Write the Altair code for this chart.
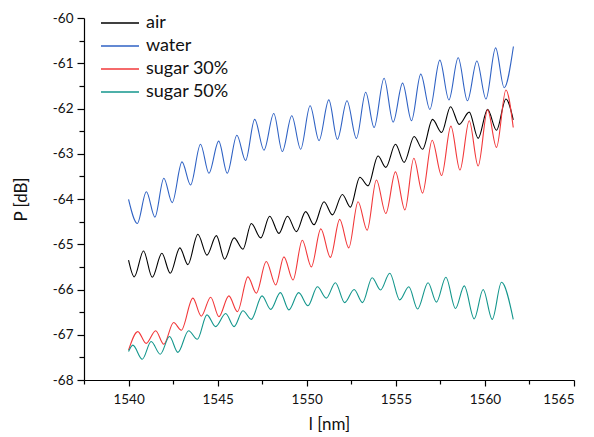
import altair as alt
import pandas as pd

series_names = ["air", "water", "sugar 30%", "sugar 50%"]
series_colors = ["#000000", "#2f62c4", "#f2383a", "#13968c"]

air_x = [1540.0, 1540.32, 1540.84, 1541.33, 1541.87, 1542.34, 1542.88, 1543.33, 1543.89, 1544.40,
         1544.93, 1545.39, 1545.92, 1546.42, 1546.89, 1547.42, 1547.92, 1548.44, 1548.92, 1549.42,
         1549.94, 1550.41, 1550.97, 1551.44, 1552.0, 1552.45, 1552.98, 1553.44, 1554.0, 1554.44,
         1554.98, 1555.47, 1556.03, 1556.50, 1557.06, 1557.57, 1558.07, 1558.56, 1559.12, 1559.62,
         1560.15, 1560.65, 1561.18, 1561.59]
air_y = [-65.35, -65.72, -65.15, -65.73, -65.20, -65.64, -65.08, -65.45, -64.78, -65.24,
         -64.81, -65.33, -64.86, -65.11, -64.54, -64.86, -64.38, -64.76, -64.38, -64.72,
         -64.28, -64.57, -64.06, -64.35, -63.90, -64.18, -63.52, -63.71, -63.05, -63.30,
         -62.79, -63.19, -62.62, -62.90, -62.24, -62.53, -61.96, -62.35, -62.08, -62.66,
         -62.02, -62.48, -61.79, -62.25]

water_x = [1540.0, 1540.49, 1541.0, 1541.48, 1541.98, 1542.45, 1543.0, 1543.48, 1544.04, 1544.51,
           1545.06, 1545.54, 1546.08, 1546.57, 1547.08, 1547.6, 1548.15, 1548.63, 1549.16, 1549.66,
           1550.19, 1550.69, 1551.24, 1551.72, 1552.26, 1552.79, 1553.31, 1553.78, 1554.34, 1554.85,
           1555.38, 1555.88, 1556.40, 1556.91, 1557.47, 1557.98, 1558.50, 1559.02, 1559.55, 1560.06,
           1560.60, 1561.08, 1561.6]
water_y = [-64.01, -64.54, -63.84, -64.40, -63.54, -64.08, -63.18, -63.69, -62.79, -63.43,
           -62.72, -63.43, -62.59, -63.15, -62.24, -62.92, -62.11, -62.95, -62.16, -62.90,
           -61.94, -62.71, -61.81, -62.68, -61.83, -62.66, -61.64, -62.42, -61.33, -62.30,
           -61.44, -62.27, -61.24, -62.02, -60.93, -61.81, -60.88, -61.83, -60.95, -61.79,
           -60.66, -61.54, -60.63]

s30_x = [1540.0, 1540.52, 1540.99, 1541.52, 1541.98, 1542.53, 1542.96, 1543.61, 1544.08, 1544.61,
         1545.07, 1545.63, 1546.11, 1546.70, 1547.17, 1547.73, 1548.26, 1548.72, 1549.23, 1549.75,
         1550.26, 1550.79, 1551.33, 1551.85, 1552.36, 1552.88, 1553.39, 1553.91, 1554.44, 1554.98,
         1555.51, 1556.01, 1556.50, 1557.04, 1557.57, 1558.09, 1558.60, 1559.12, 1559.62, 1560.15,
         1560.65, 1561.18, 1561.59]
s30_y = [-67.34, -66.93, -67.19, -66.91, -67.21, -66.73, -66.90, -66.19, -66.59, -66.17,
         -66.60, -66.14, -66.49, -65.72, -66.08, -65.38, -65.90, -65.28, -65.79, -64.91,
         -65.50, -64.66, -65.29, -64.45, -65.08, -64.06, -64.69, -63.58, -64.32, -63.40,
         -64.24, -63.10, -63.87, -62.70, -63.48, -62.39, -63.36, -62.27, -63.27, -62.03,
         -62.86, -61.59, -62.42]

s50_x = [1540.0, 1540.24, 1540.77, 1541.27, 1541.78, 1542.30, 1542.77, 1543.37, 1543.86, 1544.40,
         1544.89, 1545.45, 1545.92, 1546.42, 1546.89, 1547.49, 1547.98, 1548.52, 1549.0, 1549.55,
         1550.07, 1550.60, 1551.10, 1551.61, 1552.13, 1552.66, 1553.13, 1553.67, 1554.14, 1554.66,
         1555.22, 1555.73, 1556.22, 1556.81, 1557.28, 1557.81, 1558.35, 1558.84, 1559.40, 1559.90,
         1560.41, 1560.93, 1561.59]
s50_y = [-67.37, -67.23, -67.54, -67.15, -67.43, -67.04, -67.39, -66.91, -67.10, -66.56,
         -66.82, -66.53, -66.82, -66.47, -66.66, -66.14, -66.44, -66.07, -66.45, -66.07,
         -66.36, -65.94, -66.19, -65.85, -66.29, -66.00, -66.29, -65.74, -66.01, -65.64,
         -66.23, -65.94, -66.43, -65.85, -66.28, -65.73, -66.42, -65.92, -66.65, -66.00,
         -66.66, -65.84, -66.66]

x_ticks = [1537.5, 1540, 1542.5, 1545, 1547.5, 1550, 1552.5, 1555, 1557.5, 1560, 1562.5, 1565]
y_ticks = [-68, -67.5, -67, -66.5, -66, -65.5, -65, -64.5, -64, -63.5, -63, -62.5, -62, -61.5,
           -61, -60.5, -60]

rows = []
for name, xs, ys in [("air", air_x, air_y), ("water", water_x, water_y),
                     ("sugar 30%", s30_x, s30_y), ("sugar 50%", s50_x, s50_y)]:
    for i, (a, b) in enumerate(zip(xs, ys)):
        rows.append({"series": name, "wl": a, "p": b, "i": i})
df = pd.DataFrame(rows)

FONT = "Lato"

chart = alt.Chart(df).mark_line(interpolate="monotone", strokeWidth=1.1).encode(
    x=alt.X("wl:Q",
            scale=alt.Scale(domain=[1537.5, 1565], nice=False, zero=False),
            axis=alt.Axis(title="l [nm]", values=x_ticks, grid=False,
                          labelExpr="datum.value % 5 === 0 ? '' + datum.value : ''",
                          tickSize={"condition": {"test": "datum.value % 5 === 0", "value": 6}, "value": 4},
                          labelPadding=6, titlePadding=11)),
    y=alt.Y("p:Q",
            scale=alt.Scale(domain=[-68, -60], nice=False, zero=False),
            axis=alt.Axis(title="P [dB]", values=y_ticks, grid=False,
                          labelExpr="datum.value % 1 === 0 ? '' + datum.value : ''",
                          tickSize={"condition": {"test": "datum.value % 1 === 0", "value": 7}, "value": 5},
                          labelPadding=4, titlePadding=22)),
    color=alt.Color("series:N",
                    scale=alt.Scale(domain=series_names, range=series_colors),
                    legend=alt.Legend(title=None, orient="none", legendX=16, legendY=-3,
                                      symbolType="stroke", symbolSize=1444, clipHeight=16,
                                      symbolStrokeWidth=1.5, labelFontSize=18, labelFont=FONT,
                                      labelColor="#111", rowPadding=5, labelOffset=6, padding=0)),
    order="i:Q",
).properties(
    width=490, height=362,
    autosize=alt.AutoSizeParams(type="none"),
    padding={"left": 76, "top": 10, "right": 12, "bottom": 56},
).configure_view(stroke=None).configure_axis(
    domainColor="#000", tickColor="#000", labelColor="#111", titleColor="#111",
    labelFont=FONT, titleFont=FONT, labelFontSize=13.5, titleFontSize=17,
    titleFontWeight="normal", domainWidth=1.2, tickWidth=1.2,
)

chart.save("out.html", embed_options={"renderer": "svg", "actions": False})
